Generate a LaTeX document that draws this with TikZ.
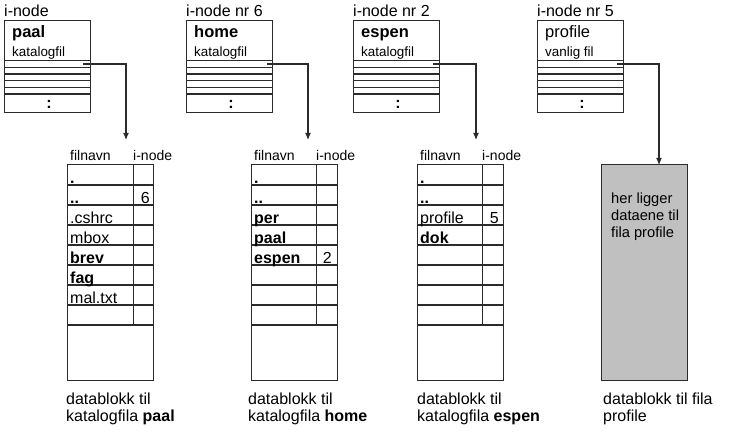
\documentclass[tikz,border=0pt]{standalone}
\usepackage{fontspec}
\setmainfont{Liberation Sans}
\usetikzlibrary{arrows.meta}
\definecolor{ln}{HTML}{2B2B2B}
\definecolor{gbox}{HTML}{C0C0C0}
\newcommand\InodeBox[6]{%
  \node[toplab] (#1lab) at (#2,16.5) {#4};
  \node[box, minimum width=86bp, minimum height=92bp, anchor=north west] (#1) at (#2,21) {};
  \foreach \yy in {60.7,67.3,74,80.7,87.3,94} \draw[hl] (#2,\yy) -- ++(86,0);
  \node[namef] (#1t) at (#2+8,37.5) {#5};
  \node[subf] (#1s) at (#2+8,56.5) {#6};
  \node[colonf] (#1c) at (#2+45,104) {:};
}
\newcommand\DataBlock[3]{%
  \node[box, minimum width=86bp, minimum height=215bp, anchor=north west] (#1) at (#2,165) {};
  \foreach \yy in {185,205,...,325} \draw[rowl] (#2,\yy) -- ++(86,0);
  \draw[vl] (#2+#3,165) -- (#2+#3,325);
  \node[hdr] (#1h1) at (#2+3,160.5) {filnavn};
  \node[hdr] (#1h2) at (#2+#3,160.5) {i-node};
}
\begin{document}
\begin{tikzpicture}[x=1bp,y=-1bp,
  box/.style={draw=ln, line width=1bp, inner sep=0pt, outer sep=0pt},
  hl/.style={draw=ln, line width=1.1bp},
  rowl/.style={draw=ln, line width=1.5bp},
  vl/.style={draw=ln, line width=1bp},
  conn/.style={draw=ln, line width=1.1bp, -{Latex[length=7bp,width=6bp]}},
  toplab/.style={inner sep=0pt, anchor=base west, font=\fontsize{16bp}{18bp}\selectfont},
  namef/.style={inner sep=0pt, anchor=base west, font=\fontsize{16.5bp}{18bp}\selectfont},
  subf/.style={inner sep=0pt, anchor=base west, font=\fontsize{13.4bp}{15bp}\selectfont},
  colonf/.style={inner sep=0pt, font=\fontsize{16bp}{18bp}\selectfont\bfseries},
  hdr/.style={inner sep=0pt, anchor=base west, font=\fontsize{14bp}{16bp}\selectfont},
  cell/.style={inner sep=0pt, anchor=base west, font=\fontsize{16bp}{18bp}\selectfont},
  num/.style={inner sep=0pt, anchor=base east, font=\fontsize{16bp}{18bp}\selectfont},
  captxt/.style={inner sep=0pt, anchor=base west, align=left, font=\fontsize{16bp}{17.7bp}\selectfont},
  gtxt/.style={inner sep=0pt, anchor=base west, align=left, font=\fontsize{14.7bp}{17.3bp}\selectfont},
]
\useasboundingbox (0,0) rectangle (729,436);

% i-node boxes
\InodeBox{in1}{4}{86}{i-node}{\textbf{paal}}{katalogfil}
\InodeBox{in2}{186}{86}{i-node nr 6}{\textbf{home}}{katalogfil}
\InodeBox{in3}{353}{86}{i-node nr 2}{\textbf{espen}}{katalogfil}
\InodeBox{in4}{537}{86}{i-node nr 5}{profile}{vanlig fil}

% data blocks
\DataBlock{db1}{67}{66}
\DataBlock{db2}{251}{65}
\DataBlock{db3}{417}{65}
\node[box, fill=gbox, minimum width=86bp, minimum height=215bp, anchor=north west] (db4) at (601,165) {};

% block 1 entries
\node[cell] (c11) at (70,183.5) {\textbf{.}};
\node[cell] (c12) at (70,203.5) {\textbf{..}};
\node[num]  (n12) at (150,203.5) {6};
\node[cell] (c13) at (70,223.5) {.cshrc};
\node[cell] (c14) at (70,243.5) {mbox};
\node[cell] (c15) at (70,263.5) {\textbf{brev}};
\node[cell] (c16) at (70,283.5) {\textbf{fag}};
\node[cell] (c17) at (70,303.5) {mal.txt};

% block 2 entries
\node[cell] (c21) at (254,183.5) {\textbf{.}};
\node[cell] (c22) at (254,203.5) {\textbf{..}};
\node[cell] (c23) at (254,223.5) {\textbf{per}};
\node[cell] (c24) at (254,243.5) {\textbf{paal}};
\node[cell] (c25) at (254,263.5) {\textbf{espen}};
\node[num]  (n25) at (332,263.5) {2};

% block 3 entries
\node[cell] (c31) at (420,183.5) {\textbf{.}};
\node[cell] (c32) at (420,203.5) {\textbf{..}};
\node[cell] (c33) at (420,223.5) {profile};
\node[num]  (n33) at (499,223.5) {5};
\node[cell] (c34) at (420,243.5) {\textbf{dok}};

% grey block text (base = last line)
\node[gtxt] (g4) at (611,237.9) {her ligger\\dataene til\\fila profile};

% captions (base = last line)
\node[captxt] (cap1) at (66,421.7) {datablokk til\\katalogfila \textbf{paal}};
\node[captxt] (cap2) at (248,421.7) {datablokk til\\katalogfila \textbf{home}};
\node[captxt] (cap3) at (417,421.7) {datablokk til\\katalogfila \textbf{espen}};
\node[captxt] (cap4) at (603,421.7) {datablokk til fila\\profile};

% connectors
\coordinate (s1) at (83,64);   \coordinate (e1) at (126,140);
\coordinate (s2) at (267,64);  \coordinate (e2) at (308,140);
\coordinate (s3) at (433,64);  \coordinate (e3) at (476,140);
\coordinate (s4) at (617,64);  \coordinate (e4) at (659,165);
\draw[conn] (s1) -| (e1);
\draw[conn] (s2) -| (e2);
\draw[conn] (s3) -| (e3);
\draw[conn] (s4) -| (e4);
\end{tikzpicture}
\end{document}
